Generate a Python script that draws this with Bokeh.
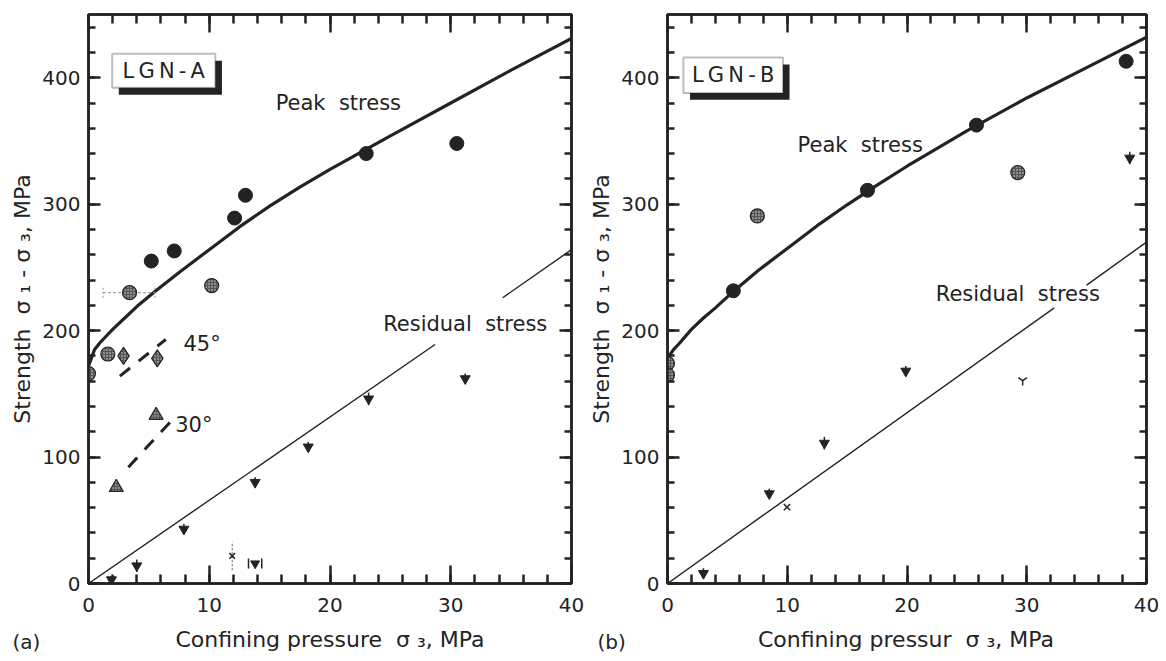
import math
from bokeh.plotting import figure
from bokeh.layouts import row, column
from bokeh.models import (Range1d, LinearAxis, SingleIntervalTicker, Label, BoxAnnotation,
                          CustomLabelingPolicy)
from bokeh.core.properties import value
from bokeh.embed import file_html
from bokeh.resources import INLINE

FONT = "DejaVu Sans"
INK = "#232323"
NAN = float("nan")

# ---------------- data: panel (a) LGN-A ----------------
a_curve_x = [0, 0.5, 1, 2, 3, 4, 5.5, 7.5, 10, 12.5, 15, 17.5, 20, 25, 30, 35, 40]
a_curve_y = [172, 185, 191, 201, 210, 219, 231, 246, 264, 282, 298.5, 313.5, 327.5, 354, 380, 406, 431]
a_resid_x = [0, 28.7, NAN, 34.3, 40]
a_resid_y = [0, 189, NAN, 226, 264]
a_peak_x = [5.2, 7.1, 12.1, 13.0, 23.0, 30.5]
a_peak_y = [255, 263, 289, 307, 340, 348]
a_spk_x = [0, 1.6, 3.4, 10.2]
a_spk_y = [166, 181.5, 230, 235.6]
a_flw_x = [2.9, 5.7]
a_flw_y = [180, 178]
a_tri_x = [2.3, 5.6]
a_tri_y = [76, 133]
a_res_x = [1.9, 4.0, 7.9, 13.8, 18.2, 23.2, 31.2]
a_res_y = [3, 14, 43, 80, 108, 146, 162]
a_res_e = [3, 5, 4, 4, 4, 5, 4]
a_xpt_x, a_xpt_y, a_xpt_lo, a_xpt_hi = [11.9], [21.8], [10.5], [33]
a_hb_x, a_hb_y, a_hb_lo, a_hb_hi = [13.8], [15.8], [13.25], [14.35]
a_eb_y, a_eb_lo, a_eb_hi = [230], [1.2], [5.5]
a_45_x, a_45_y = [2.6, 6.4], [164, 193]
a_30_x, a_30_y = [3.3, 6.8], [92, 128]

# ---------------- data: panel (b) LGN-B ----------------
b_curve_x = [0, 0.5, 1, 2, 3, 4, 5.5, 7.5, 10, 12.5, 15, 17.5, 20, 25, 30, 35, 40]
b_curve_y = [178, 185, 190, 201, 210, 218, 231, 247, 265, 283, 299.5, 315, 330, 358, 384, 408, 432]
b_resid_x = [0, 32.3, NAN, 35, 40]
b_resid_y = [0, 218, NAN, 236, 270]
b_peak_x = [5.5, 16.7, 25.8, 38.3]
b_peak_y = [231.5, 311, 362.5, 413]
b_spk_x = [0, 0, 7.5, 29.25]
b_spk_y = [174, 165, 290.7, 325]
b_res_x = [3.0, 8.5, 13.1, 19.9, 38.6]
b_res_y = [8, 71, 111, 168, 336.5]
b_res_e = [4, 4, 5, 4, 5]
b_xpt_x, b_xpt_y = [9.98], [60.4]
b_ypt_x, b_ypt_y = [29.66], [160.5]

X_RANGE = (0, 40)
Y_RANGE = (0, 450)
Y_LABEL = "Strength\u00a0 \u03c3\u00a0\u2081\u00a0-\u00a0\u03c3\u00a0\u2083, MPa"
X_LABEL_A = "Confining pressure\u00a0 \u03c3\u00a0\u2083, MPa"
X_LABEL_B = "Confining pressur\u00a0 \u03c3\u00a0\u2083, MPa"

HIDE_LABELS = """
for (const i of Array.from(indices)) { indices.unset(i) }
return indices
"""


def styled_axis(ax, is_x, show_labels):
    ax.axis_line_width = 2.5
    ax.axis_line_color = INK
    ax.major_tick_line_width = 2.5
    ax.minor_tick_line_width = 2.5
    ax.major_tick_line_color = INK
    ax.minor_tick_line_color = INK
    ax.major_tick_out = 0
    ax.minor_tick_out = 0
    if is_x:
        ax.major_tick_in = 18
        ax.minor_tick_in = 9
    else:
        ax.major_tick_in = 12
        ax.minor_tick_in = 7
    ax.major_label_text_font = FONT
    ax.major_label_text_color = INK
    ax.axis_label_text_font = FONT
    ax.axis_label_text_font_style = "normal"
    ax.axis_label_text_color = INK
    ax.axis_label_text_font_size = "22px"
    if show_labels:
        ax.major_label_text_font_size = "20px"
    else:
        ax.major_label_text_font_size = "0px"
        ax.major_label_policy = CustomLabelingPolicy(code=HIDE_LABELS)
        ax.major_label_standoff = 0


def panel(width, height, bl, br, bt, bb):
    p = figure(width=width, height=height, x_range=Range1d(*X_RANGE), y_range=Range1d(*Y_RANGE),
               output_backend="svg", toolbar_location=None,
               min_border_left=bl, min_border_right=br, min_border_top=bt, min_border_bottom=bb)
    p.grid.visible = False
    p.outline_line_color = INK
    p.outline_line_width = 2.5
    p.background_fill_color = None
    p.border_fill_color = "white"
    xt = SingleIntervalTicker(interval=10, num_minor_ticks=5)
    yt = SingleIntervalTicker(interval=100, num_minor_ticks=5)
    bottom = p.xaxis[0]
    left = p.yaxis[0]
    bottom.ticker = xt
    left.ticker = yt
    styled_axis(bottom, True, True)
    styled_axis(left, False, True)
    bottom.major_label_standoff = 14
    left.major_label_standoff = 8
    left.axis_label_standoff = 4
    left.axis_label = Y_LABEL
    top = LinearAxis(ticker=xt)
    styled_axis(top, True, False)
    right = LinearAxis(ticker=yt)
    styled_axis(right, False, False)
    p.add_layout(top, "above")
    p.add_layout(right, "right")
    return p


def lab(p, x, y, text, size="21px", align="left"):
    p.add_layout(Label(x=x, y=y, text=text, text_font=FONT, text_font_size=size,
                       text_color=INK, text_align=align, text_baseline="middle"))


def tag_box(p, l, r, b, t, dx, dy, text):
    p.add_layout(BoxAnnotation(left=l + dx, right=r + dx, bottom=b - dy, top=t - dy,
                               fill_color=INK, fill_alpha=1, line_color=None))
    p.add_layout(BoxAnnotation(left=l, right=r, bottom=b, top=t, fill_color="white",
                               fill_alpha=1, line_color=INK, line_width=2))
    lab(p, (l + r) / 2, (b + t) / 2, text, size="21px", align="center")


SPK = dict(fill_color="#555555", hatch_pattern="dot", hatch_scale=3, hatch_color="#dddddd",
           hatch_weight=1.2, line_color=INK, line_width=1.2)


def residual_marks(p, xs, ys, es):
    p.segment(x0=xs, y0=[y - e for y, e in zip(ys, es)], x1=xs,
              y1=[y + e for y, e in zip(ys, es)], line_color=INK, line_width=1.5)
    p.scatter(xs, ys, marker="inverted_triangle", size=10, fill_color=INK, line_color=INK)


# ---------------- panel (a) ----------------
pa = panel(586, 625, 88, 15, 14, 40)
pa.line(a_curve_x, a_curve_y, line_color=INK, line_width=3.2)
pa.line(a_resid_x, a_resid_y, line_color=INK, line_width=1.4)
pa.line(a_45_x, a_45_y, line_color=INK, line_width=3, line_dash="13 11")
pa.line(a_30_x, a_30_y, line_color=INK, line_width=3, line_dash="13 11")
pa.segment(x0=a_eb_lo, y0=a_eb_y, x1=a_eb_hi, y1=a_eb_y, line_color="#8a93a8", line_width=1, line_dash="3 2")
pa.segment(x0=a_eb_lo + a_eb_hi, y0=[a_eb_y[0] - 4] * 2, x1=a_eb_lo + a_eb_hi, y1=[a_eb_y[0] + 4] * 2,
           line_color="#8a93a8", line_width=1, line_dash="2 2")
pa.segment(x0=a_xpt_x, y0=a_xpt_lo, x1=a_xpt_x, y1=a_xpt_hi, line_color="#555", line_width=1, line_dash="2 2")
pa.scatter(a_peak_x, a_peak_y, marker="circle", size=14, fill_color=INK, line_color=INK)
pa.scatter(a_spk_x, a_spk_y, marker="circle", size=14, **SPK)
pa.scatter(a_flw_x, a_flw_y, marker="diamond", size=17, **SPK)
pa.scatter(a_tri_x, a_tri_y, marker="triangle", size=14, **SPK)
residual_marks(pa, a_res_x, a_res_y, a_res_e)
pa.scatter(a_xpt_x, a_xpt_y, marker="x", size=8, line_color=INK, line_width=1.5)
pa.segment(x0=a_hb_lo + a_hb_hi, y0=[a_hb_y[0] - 4] * 2, x1=a_hb_lo + a_hb_hi, y1=[a_hb_y[0] + 4] * 2,
           line_color=INK, line_width=1.5)
pa.scatter(a_hb_x, a_hb_y, marker="inverted_triangle", size=9, fill_color=INK, line_color=INK)
tag_box(pa, 1.96, 10.5, 392, 419, 0.55, 5.5, "L\u2009G\u2009N\u2009-\u2009A")
lab(pa, 15.5, 380, "Peak\u00a0 stress")
lab(pa, 24.4, 205, "Residual\u00a0 stress")
lab(pa, 7.86, 189.4, "45\u00b0")
lab(pa, 7.18, 125, "30\u00b0")

# ---------------- panel (b) ----------------
pb = panel(574, 625, 79, 14, 12, 42)
pb.line(b_curve_x, b_curve_y, line_color=INK, line_width=3.2)
pb.line(b_resid_x, b_resid_y, line_color=INK, line_width=1.4)
pb.scatter(b_peak_x, b_peak_y, marker="circle", size=14, fill_color=INK, line_color=INK)
pb.scatter(b_spk_x, b_spk_y, marker="circle", size=14, **SPK)
residual_marks(pb, b_res_x, b_res_y, b_res_e)
pb.scatter(b_xpt_x, b_xpt_y, marker="x", size=9, line_color=INK, line_width=1.5)
pb.scatter(b_ypt_x, b_ypt_y, marker="y", size=10, line_color=INK, line_width=1.5)
tag_box(pb, 1.33, 9.64, 388, 416, 0.55, 5.5, "L\u2009G\u2009N\u2009-\u2009B")
lab(pb, 10.86, 346.5, "Peak\u00a0 stress")
lab(pb, 22.4, 228.7, "Residual\u00a0 stress")

# ---------------- caption strip: x-axis titles and panel tags (pixel units) ----------------
STRIP_W, STRIP_H = 1160, 34
strip = figure(width=STRIP_W, height=STRIP_H, x_range=Range1d(0, STRIP_W), y_range=Range1d(0, STRIP_H),
               output_backend="svg", toolbar_location=None, x_axis_type=None, y_axis_type=None,
               min_border=0, min_border_left=0, min_border_right=0, min_border_top=0,
               min_border_bottom=0)
strip.grid.visible = False
strip.outline_line_color = None
strip.background_fill_color = None
strip.text(x=[329.5, 905.5], y=[20, 20], text=[X_LABEL_A, X_LABEL_B], text_font=value(FONT),
           text_font_size=value("22px"), text_color=INK, text_align="center", text_baseline="middle")
strip.text(x=[12, 597], y=[18, 18], text=["(a)", "(b)"], text_font=value(FONT),
           text_font_size=value("20px"), text_color=INK, text_align="left", text_baseline="middle")

layout = column(row(pa, pb), strip)
open("out.html", "w").write(file_html(layout, INLINE))
